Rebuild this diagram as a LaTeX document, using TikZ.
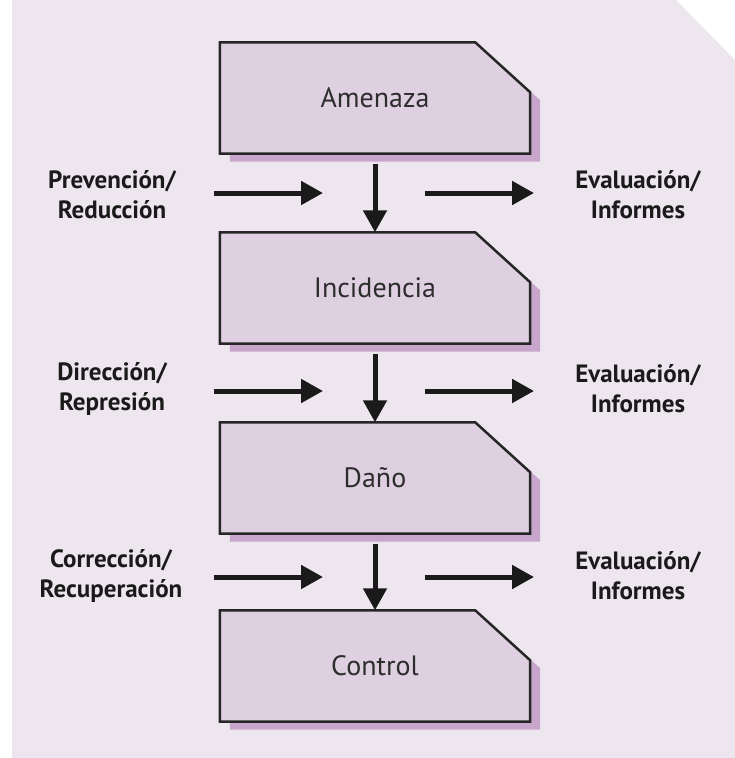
\documentclass[tikz,border=0pt]{standalone}
\usepackage{fontspec}
\setmainfont{PT Sans}
\usetikzlibrary{arrows.meta,backgrounds,calc}

\definecolor{panelcol}{RGB}{237,230,239}
\definecolor{boxcol}{RGB}{223,208,225}
\definecolor{shadowcol}{RGB}{200,165,203}
\definecolor{edgecol}{RGB}{38,38,38}
\definecolor{inkcol}{RGB}{26,26,26}
\definecolor{labelcol}{RGB}{45,45,45}

\tikzset{
  stagebox/.style={minimum width=310pt, minimum height=111pt, inner sep=0pt,
    font=\fontsize{28}{32}\selectfont, text=labelcol},
  sidelabel/.style={align=center, inner sep=0pt,
    font=\fontsize{25}{30}\selectfont\bfseries, text=inkcol},
  flow/.style={line width=5pt, draw=inkcol,
    -{Triangle[length=22pt,width=23pt]}},
}

% chamfered box outline around a stage node, with its offset shadow
% (y runs downwards in this picture)
\newcommand{\stageoutline}[1]{%
  \fill[shadowcol] ($(#1.north west)+(10,8)$) -- ($(#1.north east)+(-45,8)$)
    -- ($(#1.north east)+(10,58)$) -- ($(#1.south east)+(10,8)$)
    -- ($(#1.south west)+(10,8)$) -- cycle;
  \filldraw[fill=boxcol, draw=edgecol, line width=2.5pt, line join=miter]
    (#1.north west) -- ($(#1.north east)+(-55,0)$)
    -- ($(#1.north east)+(0,50)$) -- (#1.south east)
    -- (#1.south west) -- cycle;}

\begin{document}
\begin{tikzpicture}[x=1pt, y=-1pt]
  \useasboundingbox (0,0) rectangle (735,758);

  % stages
  \node[stagebox] (amenaza)    at (375,98)  {Amenaza};
  \node[stagebox] (incidencia) at (375,288) {Incidencia};
  \node[stagebox] (dano)       at (375,478) {Daño};
  \node[stagebox] (control)    at (375,666) {Control};

  % side labels
  \node[sidelabel] (prev) at (112,195) {Prevención/\\Reducción};
  \node[sidelabel] (dir)  at (112,389) {Dirección/\\Represión};
  \node[sidelabel] (corr) at (111,576) {Corrección/\\Recuperación};
  \node[sidelabel] (eval1) at (638,195) {Evaluación/\\Informes};
  \node[sidelabel] (eval2) at (638,389) {Evaluación/\\Informes};
  \node[sidelabel] (eval3) at (638,576) {Evaluación/\\Informes};

  \begin{scope}[on background layer]
    \fill[panelcol] (12,0) -- (676,0) -- (735,60) -- (735,758) -- (12,758) -- cycle;
    \stageoutline{amenaza}
    \stageoutline{incidencia}
    \stageoutline{dano}
    \stageoutline{control}
  \end{scope}

  % flow between stages
  \draw[flow, shorten <=10pt] (amenaza.south) -- (incidencia.north);
  \draw[flow, shorten <=10pt] (incidencia.south) -- (dano.north);
  \draw[flow, shorten <=10pt] (dano.south) -- (control.north);

  % incoming and outgoing actions
  \foreach \r/\y in {1/193, 2/391, 3/577} {
    \coordinate (inA\r)  at (214,\y);
    \coordinate (inB\r)  at (323,\y);
    \coordinate (outA\r) at (425,\y);
    \coordinate (outB\r) at (534,\y);
    \draw[flow] (inA\r) -- (inB\r);
    \draw[flow] (outA\r) -- (outB\r);
  }
\end{tikzpicture}
\end{document}
